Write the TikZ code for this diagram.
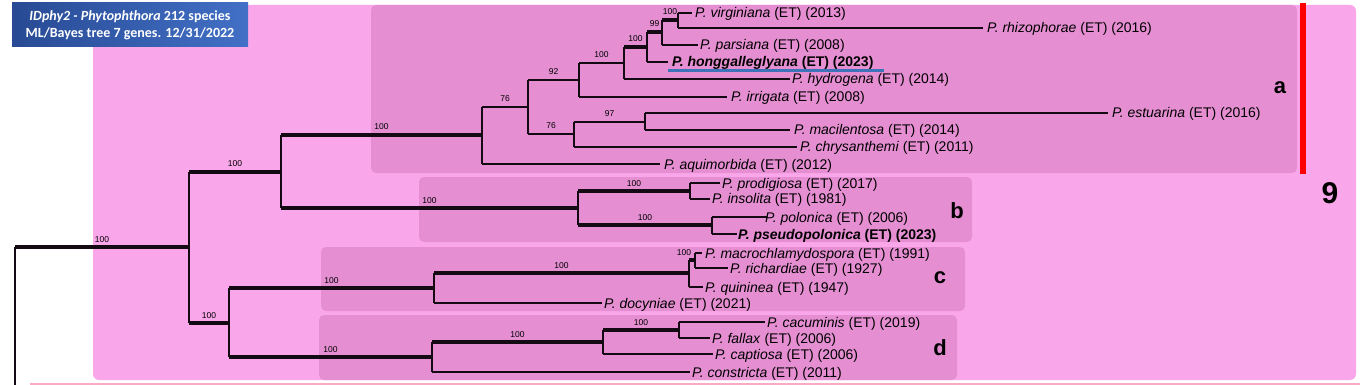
\documentclass[tikz,border=0pt]{standalone}
\usepackage{fontspec}
\setmainfont{Liberation Sans}
\newfontfamily\titlefont{Carlito}
\usetikzlibrary{calc}
\definecolor{outerpink}{RGB}{250,166,234}
\definecolor{cladepink}{RGB}{229,143,210}
\definecolor{treeline}{RGB}{20,10,20}
\definecolor{titleA}{RGB}{40,74,148}
\definecolor{titleB}{RGB}{66,112,198}
\definecolor{ulblue}{RGB}{62,115,185}
\definecolor{bottompink}{RGB}{250,170,195}
\begin{document}
\begin{tikzpicture}[x=1pt,y=-1pt,
  thinbr/.style={draw=treeline, line width=1.2pt},
  thickbr/.style={draw=treeline, line width=4pt},
  vline/.style={draw=treeline, line width=1.2pt},
  leaf/.style={anchor=base west, inner sep=0pt, font=\fontsize{14}{16}\selectfont},
  bs/.style={anchor=base, inner sep=0pt, yshift=5pt, font=\fontsize{8.5}{9}\selectfont},
  cladebox/.style={fill=cladepink, rounded corners=5pt},
  cladeletter/.style={font=\fontsize{22}{24}\selectfont\bfseries, inner sep=0pt},
]
\useasboundingbox (0,0) rectangle (1360,385);
\fill[white] (0,0) rectangle (1360,385);
% background boxes
\path[fill=outerpink, rounded corners=6pt] (93,5) rectangle (1356,380);
\path[cladebox] (371,5) rectangle (1297,173);
\path[cladebox] (419,177) rectangle (972,242);
\path[cladebox] (321,247) rectangle (965,311);
\path[cladebox] (319,315) rectangle (957,380);
\fill[bottompink] (30,382.5) rectangle (1360,385);
\fill[red] (1300,3) rectangle (1306,174);
% title
\node[left color=titleA, right color=titleB, minimum width=236pt, minimum height=44pt,
      inner sep=0pt, text=white, align=center,
      font=\titlefont\fontsize{14}{17}\selectfont\bfseries] (title) at (130,25)
  {\textit{IDphy2 - Phytophthora} 212 species\\ML/Bayes tree 7 genes. 12/31/2022};
% clade letters
\node[cladeletter] (la) at (1280,88) {a};
\node[cladeletter] (lb) at (957,211) {b};
\node[cladeletter] (lc) at (940,278) {c};
\node[cladeletter] (ld) at (940,348) {d};
\node[font=\fontsize{30}{32}\selectfont\bfseries, inner sep=0pt] (nine) at (1330,193) {9};
% internal nodes
\coordinate (r0) at (15,247);
\coordinate (rb) at (15,385);
\coordinate (n1) at (189,247);
\coordinate (n2) at (281,172);
\coordinate (n3) at (229,323);
\coordinate (n4) at (482,135);
\coordinate (n5) at (578,208);
\coordinate (n6) at (528,107);
\coordinate (n7) at (579,80);
\coordinate (n8) at (574,134);
\coordinate (n9) at (624,63);
\coordinate (n10) at (647,47);
\coordinate (n11) at (662,32);
\coordinate (n12) at (678,20);
\coordinate (n13) at (645,122);
\coordinate (n14) at (690,191);
\coordinate (n15) at (712,225);
\coordinate (n16) at (434,288);
\coordinate (n17) at (432,357);
\coordinate (n18) at (689,273);
\coordinate (n19) at (695,260);
\coordinate (n20) at (603,342);
\coordinate (n21) at (679,330);
% leaf line ends
\coordinate (virg) at (692,13);
\coordinate (rhiz) at (983,28);
\coordinate (pars) at (698,45);
\coordinate (hong) at (668,62);
\coordinate (hydr) at (790,79);
\coordinate (irri) at (727,97);
\coordinate (estu) at (1108,113);
\coordinate (maci) at (790,130);
\coordinate (chry) at (797,147);
\coordinate (aqui) at (660,164);
\coordinate (prod) at (720,183);
\coordinate (inso) at (710,199);
\coordinate (polo) at (767,217);
\coordinate (pseu) at (737,234);
\coordinate (macr) at (702,253);
\coordinate (rich) at (728,268);
\coordinate (quin) at (703,287);
\coordinate (docy) at (602,303);
\coordinate (cacu) at (765,322);
\coordinate (fall) at (710,338);
\coordinate (capt) at (713,354);
\coordinate (cons) at (690,372);
% verticals
\draw[vline] (r0) -- (rb);
\draw[vline] (n1 |- n2) -- (n1 |- n3);
\draw[vline] (n2 |- n4) -- (n2 |- n5);
\draw[vline] (n4 |- n6) -- (n4 |- aqui);
\draw[vline] (n6 |- n7) -- (n6 |- n8);
\draw[vline] (n7 |- n9) -- (n7 |- irri);
\draw[vline] (n9 |- n10) -- (n9 |- hydr);
\draw[vline] (n10 |- n11) -- (n10 |- hong);
\draw[vline] (n11 |- n12) -- (n11 |- pars);
\draw[vline] (n12 |- virg) -- (n12 |- rhiz);
\draw[vline] (n8 |- n13) -- (n8 |- chry);
\draw[vline] (n13 |- estu) -- (n13 |- maci);
\draw[vline] (n5 |- n14) -- (n5 |- n15);
\draw[vline] (n14 |- prod) -- (n14 |- inso);
\draw[vline] (n15 |- polo) -- (n15 |- pseu);
\draw[vline] (n3 |- n16) -- (n3 |- n17);
\draw[vline] (n16 |- n18) -- (n16 |- docy);
\draw[vline] (n18 |- n19) -- (n18 |- quin);
\draw[vline] (n19 |- macr) -- (n19 |- rich);
\draw[vline] (n17 |- n20) -- (n17 |- cons);
\draw[vline] (n20 |- n21) -- (n20 |- capt);
\draw[vline] (n21 |- cacu) -- (n21 |- fall);
% horizontal branches
\draw[thickbr] (r0) -- (n1) node[bs,midway] (b1) {100};
\draw[thickbr] (n1 |- n2) -- (n2) node[bs,midway] (b2) {100};
\draw[thickbr] (n1 |- n3) -- (n3) node[bs,midway] (b3) {100};
\draw[thickbr] (n2 |- n4) -- (n4) node[bs,midway] (b4) {100};
\draw[thickbr] (n2 |- n5) -- (n5) node[bs,midway] (b5) {100};
\draw[thinbr] (n4 |- n6) -- (n6) node[bs,midway] (b6) {76};
\draw[thinbr] (n4 |- aqui) -- (aqui);
\draw[thinbr] (n6 |- n7) -- (n7) node[bs,midway] (b7) {92};
\draw[thinbr] (n6 |- n8) -- (n8) node[bs,midway] (b8) {76};
\draw[thinbr] (n7 |- n9) -- (n9) node[bs,midway] (b9) {100};
\draw[thinbr] (n7 |- irri) -- (irri);
\draw[thickbr] (n9 |- n10) -- (n10) node[bs,midway] (b10) {100};
\draw[thinbr] (n9 |- hydr) -- (hydr);
\draw[thickbr] (n10 |- n11) -- (n11) node[bs,midway] (b11) {99};
\draw[thinbr] (n10 |- hong) -- (hong);
\draw[thickbr] (n11 |- n12) -- (n12) node[bs,midway] (b12) {100};
\draw[thinbr] (n11 |- pars) -- (pars);
\draw[thinbr] (n12 |- virg) -- (virg);
\draw[thinbr] (n12 |- rhiz) -- (rhiz);
\draw[thinbr] (n8 |- n13) -- (n13) node[bs,midway] (b13) {97};
\draw[thinbr] (n8 |- chry) -- (chry);
\draw[thinbr] (n13 |- estu) -- (estu);
\draw[thinbr] (n13 |- maci) -- (maci);
\draw[thickbr] (n5 |- n14) -- (n14) node[bs,midway] (b14) {100};
\draw[thickbr] (n5 |- n15) -- (n15) node[bs,midway] (b15) {100};
\draw[thinbr] (n14 |- prod) -- (prod);
\draw[thinbr] (n14 |- inso) -- (inso);
\draw[thinbr] (n15 |- polo) -- (polo);
\draw[thinbr] (n15 |- pseu) -- (pseu);
\draw[thickbr] (n3 |- n16) -- (n16) node[bs,midway] (b16) {100};
\draw[thickbr] (n16 |- n18) -- (n18) node[bs,midway] (b18) {100};
\draw[thinbr] (n16 |- docy) -- (docy);
\draw[thickbr] (n18 |- n19) -- (n19);
\node[bs] (b19) at (684,260) {100};
\draw[thinbr] (n18 |- quin) -- (quin);
\draw[thinbr] (n19 |- macr) -- (macr);
\draw[thinbr] (n19 |- rich) -- (rich);
\draw[thickbr] (n3 |- n17) -- (n17) node[bs,midway] (b17) {100};
\draw[thickbr] (n17 |- n20) -- (n20) node[bs,midway] (b20) {100};
\draw[thinbr] (n17 |- cons) -- (cons);
\draw[thickbr] (n20 |- n21) -- (n21) node[bs,midway] (b21) {100};
\draw[thinbr] (n20 |- capt) -- (capt);
\draw[thinbr] (n21 |- cacu) -- (cacu);
\draw[thinbr] (n21 |- fall) -- (fall);
% leaf labels
\node[leaf] (tvirg) at ($(virg)+(3,5)$) {\textit{P. virginiana} (ET) (2013)};
\node[leaf] (trhiz) at ($(rhiz)+(4,5)$) {\textit{P. rhizophorae} (ET) (2016)};
\node[leaf] (tpars) at ($(pars)+(2,5)$) {\textit{P. parsiana} (ET) (2008)};
\node[leaf] (thong) at ($(hong)+(4,5)$) {\textbf{\textit{P. honggalleglyana} (ET) (2023)}};
\node[leaf] (thydr) at ($(hydr)+(2,5)$) {\textit{P. hydrogena} (ET) (2014)};
\node[leaf] (tirri) at ($(irri)+(4,5)$) {\textit{P. irrigata} (ET) (2008)};
\node[leaf] (testu) at ($(estu)+(4,5)$) {\textit{P. estuarina} (ET) (2016)};
\node[leaf] (tmaci) at ($(maci)+(4,5)$) {\textit{P. macilentosa} (ET) (2014)};
\node[leaf] (tchry) at ($(chry)+(3,5)$) {\textit{P. chrysanthemi} (ET) (2011)};
\node[leaf] (taqui) at ($(aqui)+(4,5)$) {\textit{P. aquimorbida} (ET) (2012)};
\node[leaf] (tprod) at ($(prod)+(2,5)$) {\textit{P. prodigiosa} (ET) (2017)};
\node[leaf] (tinso) at ($(inso)+(2,5)$) {\textit{P. insolita} (ET) (1981)};
\node[leaf] (tpolo) at ($(polo)+(-2,5)$) {\textit{P. polonica} (ET) (2006)};
\node[leaf] (tpseu) at ($(pseu)+(1,5)$) {\textbf{\textit{P. pseudopolonica} (ET) (2023)}};
\node[leaf] (tmacr) at ($(macr)+(3,5)$) {\textit{P. macrochlamydospora} (ET) (1991)};
\node[leaf] (trich) at ($(rich)+(2,5)$) {\textit{P. richardiae} (ET) (1927)};
\node[leaf] (tquin) at ($(quin)+(2,5)$) {\textit{P. quininea} (ET) (1947)};
\node[leaf] (tdocy) at ($(docy)+(2,5)$) {\textit{P. docyniae} (ET) (2021)};
\node[leaf] (tcacu) at ($(cacu)+(2,5)$) {\textit{P. cacuminis} (ET) (2019)};
\node[leaf] (tfall) at ($(fall)+(2,5)$) {\textit{P. fallax} (ET) (2006)};
\node[leaf] (tcapt) at ($(capt)+(2,5)$) {\textit{P. captiosa} (ET) (2006)};
\node[leaf] (tcons) at ($(cons)+(2,5)$) {\textit{P. constricta} (ET) (2011)};
% underline
\coordinate (ulA) at (668,71);
\coordinate (ulB) at (884,71);
\draw[ulblue, line width=3pt] (ulA) -- (ulB);
\end{tikzpicture}
\end{document}
